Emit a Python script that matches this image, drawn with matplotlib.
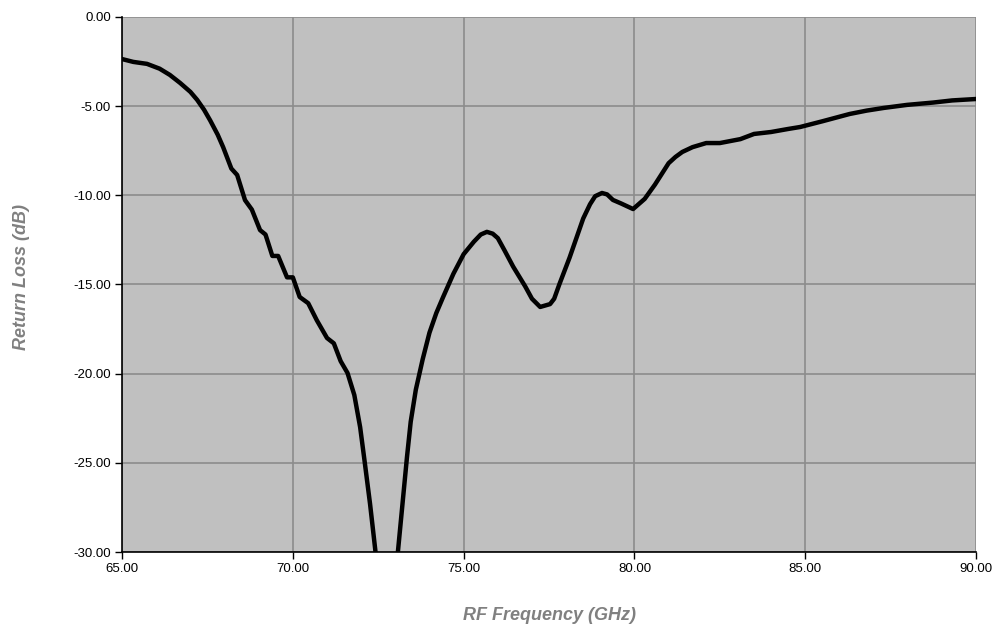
import matplotlib
matplotlib.use("Agg")
import matplotlib.pyplot as plt
from matplotlib.ticker import FormatStrFormatter

# Return loss trace (GHz, dB)
freq_ghz = [65.0, 65.33, 65.73, 66.1, 66.4, 66.7, 67.0, 67.2, 67.4, 67.58, 67.8, 67.96, 68.2, 68.37,
            68.6, 68.8, 69.04, 69.2, 69.4, 69.57, 69.83, 70.0, 70.2, 70.45, 70.7, 71.0,
            71.2, 71.4, 71.6, 71.8, 71.97, 72.1, 72.26, 72.45, 72.6,
            72.9, 73.05, 73.2, 73.34, 73.45, 73.6, 73.8, 74.0, 74.2, 74.4, 74.7, 75.0, 75.3, 75.5,
            75.68, 75.85, 76.0, 76.2, 76.45, 76.8, 77.0, 77.24, 77.53, 77.65, 77.8, 78.1, 78.3,
            78.5, 78.7, 78.85, 79.05, 79.2, 79.37, 79.6, 79.96, 80.3, 80.6, 81.0, 81.2, 81.4,
            81.7, 82.1, 82.5, 83.1, 83.5, 84.0, 84.5, 84.85, 85.5, 86.3, 86.8, 87.3, 87.98,
            88.74, 89.3, 90.0]
return_loss_db = [-2.36, -2.52, -2.63, -2.9, -3.25, -3.7, -4.2, -4.65, -5.2, -5.8, -6.6, -7.3, -8.5, -8.86,
                  -10.27, -10.8, -11.95, -12.2, -13.4, -13.4, -14.6, -14.6, -15.7, -16.05, -17.0, -18.0,
                  -18.3, -19.3, -19.96, -21.2, -23.0, -24.9, -27.3, -30.5, -33.0,
                  -33.0, -30.5, -27.5, -24.7, -22.7, -20.9, -19.2, -17.7, -16.6, -15.7, -14.4, -13.3, -12.6, -12.2,
                  -12.05, -12.15, -12.4, -13.1, -14.0, -15.1, -15.8, -16.26, -16.1, -15.8, -15.0, -13.5, -12.4,
                  -11.3, -10.5, -10.05, -9.87, -9.95, -10.26, -10.45, -10.77, -10.2, -9.4, -8.2, -7.85, -7.57,
                  -7.3, -7.07, -7.07, -6.85, -6.56, -6.45, -6.28, -6.17, -5.85, -5.44, -5.25, -5.1, -4.93,
                  -4.8, -4.68, -4.6]

x_ticks = [65, 70, 75, 80, 85, 90]
y_ticks = [0, -5, -10, -15, -20, -25, -30]

fig = plt.figure(figsize=(9.97, 6.28), dpi=100)
ax = fig.add_axes([0.1224, 0.121, 0.8566, 0.852])
ax.set_facecolor("#C0C0C0")

ax.plot(freq_ghz, return_loss_db, color="black", linewidth=3.2,
        solid_joinstyle="round", solid_capstyle="round")

ax.set_xlim(65, 90)
ax.set_ylim(-30, 0)
ax.set_xticks(x_ticks)
ax.set_yticks(y_ticks)
ax.xaxis.set_major_formatter(FormatStrFormatter("%.2f"))
ax.yaxis.set_major_formatter(FormatStrFormatter("%.2f"))
ax.grid(True, color="#8C8C8C", linewidth=1.2)
ax.set_axisbelow(True)

for side in ("top", "right"):
    ax.spines[side].set_visible(False)
for side in ("left", "bottom"):
    ax.spines[side].set_color("black")
    ax.spines[side].set_linewidth(1.2)
    ax.spines[side].set_zorder(3)

ax.tick_params(direction="out", length=5, width=1, colors="black",
               labelsize=9.5, pad=3)
for lab in ax.get_xticklabels() + ax.get_yticklabels():
    lab.set_fontfamily("Liberation Sans")

ax.set_xlabel("RF Frequency (GHz)", fontsize=13, fontweight="bold", style="italic",
              color="#808080", family="Liberation Sans", labelpad=23)
ax.set_ylabel("Return Loss (dB)", fontsize=13, fontweight="bold", style="italic",
              color="#808080", family="Liberation Sans", labelpad=31)
ax.yaxis.label.set_y(0.514)

fig.savefig("out.png", dpi=100)
